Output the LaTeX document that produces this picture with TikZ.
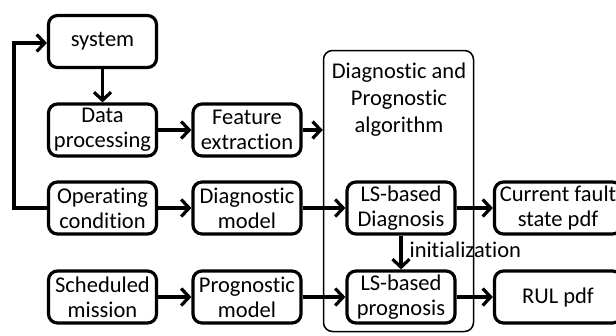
\documentclass[tikz,border=0pt]{standalone}
\usepackage{fontspec}
\setmainfont[Ligatures=NoCommon]{Carlito}
\usetikzlibrary{arrows.meta}
\begin{document}
\begin{tikzpicture}[x=1pt,y=-1pt,
 box/.style={draw, line width=3.2pt, rounded corners=9pt, minimum width=108pt, minimum height=52pt, align=center, inner sep=0pt, font=\fontsize{22.5}{25}\selectfont},
 wbox/.style={box, minimum width=127pt},
 big/.style={draw, line width=1.5pt, rounded corners=9pt, minimum width=150pt, minimum height=281pt, inner sep=0pt},
 conn/.style={line width=3.2pt, -{Straight Barb[length=8pt,width=17pt]}},
 lbl/.style={font=\fontsize{22.5}{27}\selectfont, align=center, inner sep=0pt},
]
\useasboundingbox (0,0) rectangle (616,335);
\clip (0,0) rectangle (616,335);
\node[big] (alg) at (398.5,191) {};
\node[lbl] (algt) at (399,100) {Diagnostic and\\Prognostic\\algorithm};
\node[box] (sys) at (102.5,41.5) {system};
\node[box] (data) at (102.5,130) {Data\\processing};
\node[box] (feat) at (247,130) {Feature\\extraction};
\node[box] (op) at (102.5,208) {Operating\\condition};
\node[box] (dm) at (247,208) {Diagnostic\\model};
\node[box] (sm) at (102.5,297) {Scheduled\\mission};
\node[box] (pm) at (247,297) {Prognostic\\model};
\node[box] (lsd) at (401,208) {LS-based\\Diagnosis};
\node[box] (lsp) at (401,297) {LS-based\\prognosis};
\node[wbox] (cf) at (558,208) {Current fault\\state pdf};
\node[wbox] (rul) at (558,297) {RUL pdf};
\coordinate (fb1) at (14,208);
\coordinate (fb2) at (14,43);
\draw[conn] (op.west) -- (fb1) -- (fb2) -- (sys.west |- fb2);
\draw[conn] (sys) -- (data);
\draw[conn] (data) -- (feat);
\draw[conn] (feat.east) -- (alg.west |- feat.east);
\draw[conn] (op) -- (dm);
\draw[conn] (sm) -- (pm);
\draw[conn] (dm) -- (lsd);
\draw[conn] (pm) -- (lsp);
\draw[conn] (lsd) -- (cf.west);
\draw[conn] (lsp) -- (rul.west);
\draw[conn] (lsd) -- node[lbl, anchor=base west, xshift=7pt, yshift=-4.5pt] (init) {initialization} (lsp);
\end{tikzpicture}
\end{document}
